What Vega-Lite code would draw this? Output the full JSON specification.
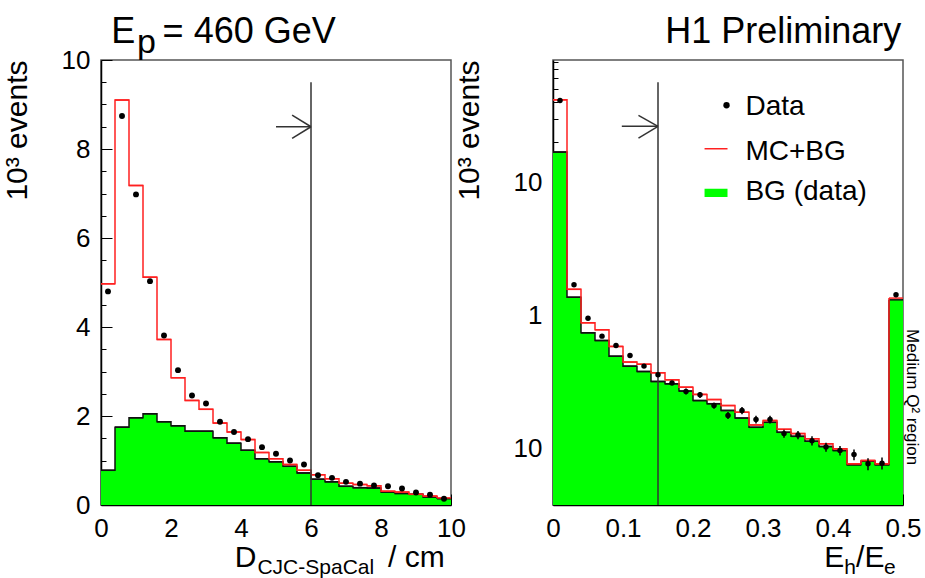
{
  "$schema": "https://vega.github.io/schema/vega-lite/v6.json",
  "padding": {"left": 1, "top": 13, "right": 0, "bottom": 0},
  "bounds": "flush",
  "spacing": 102,
  "datasets": {
    "left": [
      {"lo": 0.0, "hi": 0.4, "c": 0.2, "d": 4.80, "mc": 4.97, "bg": 0.78},
      {"lo": 0.4, "hi": 0.8, "c": 0.6, "d": 8.74, "mc": 9.10, "bg": 1.75},
      {"lo": 0.8, "hi": 1.2, "c": 1.0, "d": 6.98, "mc": 7.18, "bg": 1.96},
      {"lo": 1.2, "hi": 1.6, "c": 1.4, "d": 5.03, "mc": 5.12, "bg": 2.05},
      {"lo": 1.6, "hi": 2.0, "c": 1.8, "d": 3.81, "mc": 3.72, "bg": 1.87},
      {"lo": 2.0, "hi": 2.4, "c": 2.2, "d": 3.03, "mc": 2.86, "bg": 1.78},
      {"lo": 2.4, "hi": 2.8, "c": 2.6, "d": 2.46, "mc": 2.35, "bg": 1.66},
      {"lo": 2.8, "hi": 3.2, "c": 3.0, "d": 2.28, "mc": 2.15, "bg": 1.66},
      {"lo": 3.2, "hi": 3.6, "c": 3.4, "d": 1.87, "mc": 1.84, "bg": 1.51},
      {"lo": 3.6, "hi": 4.0, "c": 3.8, "d": 1.64, "mc": 1.64, "bg": 1.39},
      {"lo": 4.0, "hi": 4.4, "c": 4.2, "d": 1.48, "mc": 1.47, "bg": 1.23},
      {"lo": 4.4, "hi": 4.8, "c": 4.6, "d": 1.30, "mc": 1.18, "bg": 1.04},
      {"lo": 4.8, "hi": 5.2, "c": 5.0, "d": 1.15, "mc": 1.04, "bg": 0.97},
      {"lo": 5.2, "hi": 5.6, "c": 5.4, "d": 1.00, "mc": 0.91, "bg": 0.87},
      {"lo": 5.6, "hi": 6.0, "c": 5.8, "d": 0.91, "mc": 0.78, "bg": 0.72},
      {"lo": 6.0, "hi": 6.4, "c": 6.2, "d": 0.67, "mc": 0.68, "bg": 0.58},
      {"lo": 6.4, "hi": 6.8, "c": 6.6, "d": 0.61, "mc": 0.59, "bg": 0.52},
      {"lo": 6.8, "hi": 7.2, "c": 7.0, "d": 0.52, "mc": 0.49, "bg": 0.42},
      {"lo": 7.2, "hi": 7.6, "c": 7.4, "d": 0.48, "mc": 0.46, "bg": 0.39},
      {"lo": 7.6, "hi": 8.0, "c": 7.8, "d": 0.44, "mc": 0.43, "bg": 0.38},
      {"lo": 8.0, "hi": 8.4, "c": 8.2, "d": 0.42, "mc": 0.31, "bg": 0.29},
      {"lo": 8.4, "hi": 8.8, "c": 8.6, "d": 0.37, "mc": 0.29, "bg": 0.26},
      {"lo": 8.8, "hi": 9.2, "c": 9.0, "d": 0.28, "mc": 0.24, "bg": 0.24},
      {"lo": 9.2, "hi": 9.6, "c": 9.4, "d": 0.23, "mc": 0.20, "bg": 0.18},
      {"lo": 9.6, "hi": 10.0, "c": 9.8, "d": 0.14, "mc": 0.16, "bg": 0.14}
    ],
    "right": [
      {"lo": 0.00, "hi": 0.02, "c": 0.01, "d": 41.0, "elo": 40.2, "ehi": 41.8, "mc": 41.4, "bg": 16.8},
      {"lo": 0.02, "hi": 0.04, "c": 0.03, "d": 1.70, "elo": 1.67, "ehi": 1.73, "mc": 1.57, "bg": 1.37},
      {"lo": 0.04, "hi": 0.06, "c": 0.05, "d": 0.955, "elo": 0.935, "ehi": 0.975, "mc": 0.881, "bg": 0.741},
      {"lo": 0.06, "hi": 0.08, "c": 0.07, "d": 0.700, "elo": 0.685, "ehi": 0.715, "mc": 0.781, "bg": 0.649},
      {"lo": 0.08, "hi": 0.10, "c": 0.09, "d": 0.596, "elo": 0.583, "ehi": 0.609, "mc": 0.586, "bg": 0.495},
      {"lo": 0.10, "hi": 0.12, "c": 0.11, "d": 0.501, "elo": 0.490, "ehi": 0.512, "mc": 0.447, "bg": 0.417},
      {"lo": 0.12, "hi": 0.14, "c": 0.13, "d": 0.417, "elo": 0.406, "ehi": 0.428, "mc": 0.431, "bg": 0.380},
      {"lo": 0.14, "hi": 0.16, "c": 0.15, "d": 0.359, "elo": 0.349, "ehi": 0.369, "mc": 0.372, "bg": 0.320},
      {"lo": 0.16, "hi": 0.18, "c": 0.17, "d": 0.311, "elo": 0.301, "ehi": 0.321, "mc": 0.329, "bg": 0.307},
      {"lo": 0.18, "hi": 0.20, "c": 0.19, "d": 0.269, "elo": 0.255, "ehi": 0.283, "mc": 0.290, "bg": 0.271},
      {"lo": 0.20, "hi": 0.22, "c": 0.21, "d": 0.254, "elo": 0.241, "ehi": 0.267, "mc": 0.256, "bg": 0.230},
      {"lo": 0.22, "hi": 0.24, "c": 0.23, "d": 0.211, "elo": 0.200, "ehi": 0.222, "mc": 0.234, "bg": 0.218},
      {"lo": 0.24, "hi": 0.26, "c": 0.25, "d": 0.178, "elo": 0.167, "ehi": 0.189, "mc": 0.211, "bg": 0.194},
      {"lo": 0.26, "hi": 0.28, "c": 0.27, "d": 0.194, "elo": 0.182, "ehi": 0.206, "mc": 0.188, "bg": 0.170},
      {"lo": 0.28, "hi": 0.30, "c": 0.29, "d": 0.166, "elo": 0.155, "ehi": 0.177, "mc": 0.151, "bg": 0.145},
      {"lo": 0.30, "hi": 0.32, "c": 0.31, "d": 0.166, "elo": 0.155, "ehi": 0.177, "mc": 0.163, "bg": 0.158},
      {"lo": 0.32, "hi": 0.34, "c": 0.33, "d": 0.130, "elo": 0.121, "ehi": 0.139, "mc": 0.140, "bg": 0.133},
      {"lo": 0.34, "hi": 0.36, "c": 0.35, "d": 0.127, "elo": 0.118, "ehi": 0.136, "mc": 0.130, "bg": 0.124},
      {"lo": 0.36, "hi": 0.38, "c": 0.37, "d": 0.115, "elo": 0.106, "ehi": 0.124, "mc": 0.119, "bg": 0.114},
      {"lo": 0.38, "hi": 0.40, "c": 0.39, "d": 0.103, "elo": 0.095, "ehi": 0.111, "mc": 0.109, "bg": 0.104},
      {"lo": 0.40, "hi": 0.42, "c": 0.41, "d": 0.0971, "elo": 0.089, "ehi": 0.105, "mc": 0.100, "bg": 0.0971},
      {"lo": 0.42, "hi": 0.44, "c": 0.43, "d": 0.0907, "elo": 0.082, "ehi": 0.099, "mc": 0.0772, "bg": 0.0759},
      {"lo": 0.44, "hi": 0.46, "c": 0.45, "d": 0.0772, "elo": 0.069, "ehi": 0.085, "mc": 0.0818, "bg": 0.0808},
      {"lo": 0.46, "hi": 0.48, "c": 0.47, "d": 0.0778, "elo": 0.070, "ehi": 0.086, "mc": 0.0772, "bg": 0.0759},
      {"lo": 0.48, "hi": 0.50, "c": 0.49, "d": 1.43, "elo": 1.40, "ehi": 1.46, "mc": 1.35, "bg": 1.31}
    ],
    "one": [{}]
  },
  "config": {
    "view": {"stroke": "#555", "strokeWidth": 1.5},
    "axis": {
      "grid": false, "domainColor": "#000", "domainWidth": 1.5, "tickColor": "#000", "tickWidth": 1,
      "labelFont": "Liberation Sans", "titleFont": "Liberation Sans", "labelColor": "#000", "titleColor": "#000",
      "labelFontSize": 26, "titleFontSize": 30, "titleFontWeight": "normal",
      "labelFlush": false, "labelOverlap": false, "labelBound": false, "tickSize": -11
    },
    "axisY": {"labelPadding": 22, "minExtent": 40, "maxExtent": 40, "titlePadding": 29, "titleAnchor": "end"},
    "axisX": {"labelPadding": 21},
    "text": {"font": "Liberation Sans", "color": "#000"}
  },
  "hconcat": [
    {
      "width": 350, "height": 445,
      "resolve": {"axis": {"x": "independent", "y": "independent"}},
      "layer": [
        {
          "layer": [
            {
              "data": {"name": "left"},
              "mark": {"type": "rect", "color": "#00ff00"},
              "encoding": {
                "x": {"field": "lo", "type": "quantitative", "scale": {"domain": [0, 10], "nice": false, "zero": false},
                      "axis": {"title": null, "values": [0, 2, 4, 6, 8, 10]}},
                "x2": {"field": "hi"},
                "y": {"field": "bg", "type": "quantitative", "scale": {"domain": [0, 10], "nice": false},
                      "axis": {"title": "10³ events", "values": [0, 2, 4, 6, 8, 10]}},
                "y2": {"datum": 0}
              }
            },
            {
              "data": {"name": "left"},
              "mark": {"type": "rule", "color": "#111", "strokeWidth": 1.5},
              "encoding": {"x": {"field": "lo", "type": "quantitative"}, "x2": {"field": "hi"}, "y": {"field": "bg", "type": "quantitative"}}
            },
            {
              "data": {"name": "left"},
              "mark": {"type": "line", "interpolate": "step-after", "color": "#111", "strokeWidth": 1.5},
              "encoding": {"x": {"field": "lo", "type": "quantitative"}, "y": {"field": "bg", "type": "quantitative"}}
            },
            {
              "data": {"name": "left"},
              "mark": {"type": "rule", "color": "#ff2020", "strokeWidth": 1.5},
              "encoding": {"x": {"field": "lo", "type": "quantitative"}, "x2": {"field": "hi"}, "y": {"field": "mc", "type": "quantitative"}}
            },
            {
              "data": {"name": "left"},
              "mark": {"type": "line", "interpolate": "step-after", "color": "#ff2020", "strokeWidth": 1.5},
              "encoding": {"x": {"field": "lo", "type": "quantitative"}, "y": {"field": "mc", "type": "quantitative"}}
            },
            {
              "data": {"name": "one"},
              "mark": {"type": "rule", "color": "#333", "strokeWidth": 1.5},
              "encoding": {"x": {"datum": 6}, "y": {"datum": 0}, "y2": {"datum": 9.5}}
            },
            {
              "data": {"name": "one"},
              "mark": {"type": "rule", "color": "#333", "strokeWidth": 1.5},
              "encoding": {"x": {"datum": 5.0}, "x2": {"datum": 6}, "y": {"datum": 8.5}}
            },
            {
              "data": {"name": "one"},
              "mark": {"type": "rule", "color": "#333", "strokeWidth": 1.5},
              "encoding": {"x": {"datum": 5.46}, "x2": {"datum": 6}, "y": {"datum": 8.76}, "y2": {"datum": 8.5}}
            },
            {
              "data": {"name": "one"},
              "mark": {"type": "rule", "color": "#333", "strokeWidth": 1.5},
              "encoding": {"x": {"datum": 5.46}, "x2": {"datum": 6}, "y": {"datum": 8.24}, "y2": {"datum": 8.5}}
            },
            {
              "data": {"name": "left"},
              "mark": {"type": "point", "shape": "circle", "filled": true, "color": "#000", "size": 35, "opacity": 1},
              "encoding": {"x": {"field": "c", "type": "quantitative"}, "y": {"field": "d", "type": "quantitative"}}
            },
            {
              "data": {"name": "one"},
              "mark": {"type": "text", "fontSize": 36, "align": "left", "baseline": "alphabetic"},
              "encoding": {"x": {"datum": 0.29}, "y": {"datum": 10.38}, "text": {"value": "E"}}
            },
            {
              "data": {"name": "one"},
              "mark": {"type": "text", "fontSize": 34, "align": "left", "baseline": "alphabetic"},
              "encoding": {"x": {"datum": 1.03}, "y": {"datum": 10.16}, "text": {"value": "p"}}
            },
            {
              "data": {"name": "one"},
              "mark": {"type": "text", "fontSize": 36, "align": "left", "baseline": "alphabetic"},
              "encoding": {"x": {"datum": 1.76}, "y": {"datum": 10.38}, "text": {"value": "= 460 GeV"}}
            },
            {
              "data": {"name": "one"},
              "mark": {"type": "text", "fontSize": 30, "align": "left", "baseline": "alphabetic"},
              "encoding": {"x": {"datum": 3.82}, "y": {"datum": -1.40}, "text": {"value": "D"}}
            },
            {
              "data": {"name": "one"},
              "mark": {"type": "text", "fontSize": 21, "align": "left", "baseline": "alphabetic"},
              "encoding": {"x": {"datum": 4.47}, "y": {"datum": -1.56}, "text": {"value": "CJC-SpaCal"}}
            },
            {
              "data": {"name": "one"},
              "mark": {"type": "text", "fontSize": 30, "align": "left", "baseline": "alphabetic"},
              "encoding": {"x": {"datum": 8.2}, "y": {"datum": -1.40}, "text": {"value": "/ cm"}}
            }
          ]
        },
        {
          "data": {"name": "one"},
          "mark": {"type": "point", "opacity": 0},
          "encoding": {
            "x": {"datum": 5, "type": "quantitative",
                  "axis": {"orient": "bottom", "title": null, "labels": false, "domain": false, "tickSize": -5,
                           "values": [0.5,1,1.5,2.5,3,3.5,4.5,5,5.5,6.5,7,7.5,8.5,9,9.5]}},
            "y": {"datum": 5, "type": "quantitative",
                  "axis": {"orient": "left", "title": null, "labels": false, "domain": false, "tickSize": -5,
                           "values": [0.5,1,1.5,2.5,3,3.5,4.5,5,5.5,6.5,7,7.5,8.5,9,9.5]}}
          }
        }
      ]
    },
    {
      "width": 350, "height": 445,
      "resolve": {"axis": {"x": "independent", "y": "independent"}},
      "layer": [
        {
          "layer": [
            {
              "data": {"name": "right"},
              "mark": {"type": "rect", "color": "#00ff00"},
              "encoding": {
                "x": {"field": "lo", "type": "quantitative", "scale": {"domain": [0, 0.5], "nice": false, "zero": false},
                      "axis": {"title": null, "values": [0, 0.1, 0.2, 0.3, 0.4, 0.5], "format": "~g"}},
                "x2": {"field": "hi"},
                "y": {"field": "bg", "type": "quantitative", "scale": {"type": "log", "domain": [0.0379, 82.4], "nice": false},
                      "axis": {"title": "10³ events", "values": [0.1, 1, 10],
                               "labelExpr": "datum.value < 0.5 ? '10' : (datum.value < 5 ? '1' : '10')"}},
                "y2": {"datum": 0.0379}
              }
            },
            {
              "data": {"name": "right"},
              "mark": {"type": "rule", "color": "#111", "strokeWidth": 1.5},
              "encoding": {"x": {"field": "lo", "type": "quantitative"}, "x2": {"field": "hi"}, "y": {"field": "bg", "type": "quantitative"}}
            },
            {
              "data": {"name": "right"},
              "mark": {"type": "line", "interpolate": "step-after", "color": "#111", "strokeWidth": 1.5},
              "encoding": {"x": {"field": "lo", "type": "quantitative"}, "y": {"field": "bg", "type": "quantitative"}}
            },
            {
              "data": {"name": "right"},
              "mark": {"type": "rule", "color": "#ff2020", "strokeWidth": 1.5},
              "encoding": {"x": {"field": "lo", "type": "quantitative"}, "x2": {"field": "hi"}, "y": {"field": "mc", "type": "quantitative"}}
            },
            {
              "data": {"name": "right"},
              "mark": {"type": "line", "interpolate": "step-after", "color": "#ff2020", "strokeWidth": 1.5},
              "encoding": {"x": {"field": "lo", "type": "quantitative"}, "y": {"field": "mc", "type": "quantitative"}}
            },
            {
              "data": {"name": "one"},
              "mark": {"type": "rule", "color": "#333", "strokeWidth": 1.5},
              "encoding": {"x": {"datum": 0.15}, "y": {"datum": 0.0379}, "y2": {"datum": 56.2}}
            },
            {
              "data": {"name": "one"},
              "mark": {"type": "rule", "color": "#333", "strokeWidth": 1.5},
              "encoding": {"x": {"datum": 0.0983}, "x2": {"datum": 0.15}, "y": {"datum": 26.2}}
            },
            {
              "data": {"name": "one"},
              "mark": {"type": "rule", "color": "#333", "strokeWidth": 1.5},
              "encoding": {"x": {"datum": 0.1221}, "x2": {"datum": 0.15}, "y": {"datum": 31.7}, "y2": {"datum": 26.2}}
            },
            {
              "data": {"name": "one"},
              "mark": {"type": "rule", "color": "#333", "strokeWidth": 1.5},
              "encoding": {"x": {"datum": 0.1221}, "x2": {"datum": 0.15}, "y": {"datum": 21.4}, "y2": {"datum": 26.2}}
            },
            {
              "data": {"name": "right"},
              "mark": {"type": "rule", "color": "#000", "strokeWidth": 1.5},
              "encoding": {"x": {"field": "c", "type": "quantitative"}, "y": {"field": "elo", "type": "quantitative"}, "y2": {"field": "ehi"}}
            },
            {
              "data": {"name": "right"},
              "mark": {"type": "point", "shape": "circle", "filled": true, "color": "#000", "size": 30, "opacity": 1},
              "encoding": {"x": {"field": "c", "type": "quantitative"}, "y": {"field": "d", "type": "quantitative"}}
            },
            {
              "data": {"name": "one"},
              "mark": {"type": "point", "shape": "circle", "filled": true, "color": "#000", "size": 40, "opacity": 1},
              "encoding": {"x": {"datum": 0.2479}, "y": {"datum": 37.7}}
            },
            {
              "data": {"name": "one"},
              "mark": {"type": "text", "fontSize": 28, "align": "left", "baseline": "alphabetic"},
              "encoding": {"x": {"datum": 0.2749}, "y": {"datum": 31.7}, "text": {"value": "Data"}}
            },
            {
              "data": {"name": "one"},
              "mark": {"type": "rule", "color": "#ff2020", "strokeWidth": 1.5},
              "encoding": {"x": {"datum": 0.2165}, "x2": {"datum": 0.2493}, "y": {"datum": 17.8}}
            },
            {
              "data": {"name": "one"},
              "mark": {"type": "text", "fontSize": 28, "align": "left", "baseline": "alphabetic"},
              "encoding": {"x": {"datum": 0.2749}, "y": {"datum": 14.6}, "text": {"value": "MC+BG"}}
            },
            {
              "data": {"name": "one"},
              "mark": {"type": "rect", "color": "#00ff00"},
              "encoding": {"x": {"datum": 0.2165}, "x2": {"datum": 0.2493}, "y": {"datum": 8.92}, "y2": {"datum": 7.73}}
            },
            {
              "data": {"name": "one"},
              "mark": {"type": "text", "fontSize": 28, "align": "left", "baseline": "alphabetic"},
              "encoding": {"x": {"datum": 0.2749}, "y": {"datum": 7.30}, "text": {"value": "BG (data)"}}
            },
            {
              "data": {"name": "one"},
              "mark": {"type": "text", "fontSize": 36, "align": "right", "baseline": "alphabetic"},
              "encoding": {"x": {"datum": 0.4975}, "y": {"datum": 110.5}, "text": {"value": "H1 Preliminary"}}
            },
            {
              "data": {"name": "one"},
              "mark": {"type": "text", "fontSize": 17, "align": "center", "baseline": "middle", "angle": 90},
              "encoding": {"x": {"datum": 0.5128}, "y": {"datum": 0.2443}, "text": {"value": "Medium Q² region"}}
            },
            {
              "data": {"name": "one"},
              "mark": {"type": "text", "fontSize": 30, "align": "left", "baseline": "alphabetic"},
              "encoding": {"x": {"datum": 0.3875}, "y": {"datum": 0.01296}, "text": {"value": "E"}}
            },
            {
              "data": {"name": "one"},
              "mark": {"type": "text", "fontSize": 21, "align": "left", "baseline": "alphabetic"},
              "encoding": {"x": {"datum": 0.416}, "y": {"datum": 0.01148}, "text": {"value": "h"}}
            },
            {
              "data": {"name": "one"},
              "mark": {"type": "text", "fontSize": 30, "align": "left", "baseline": "alphabetic"},
              "encoding": {"x": {"datum": 0.433}, "y": {"datum": 0.01296}, "text": {"value": "/E"}}
            },
            {
              "data": {"name": "one"},
              "mark": {"type": "text", "fontSize": 21, "align": "left", "baseline": "alphabetic"},
              "encoding": {"x": {"datum": 0.473}, "y": {"datum": 0.01148}, "text": {"value": "e"}}
            }
          ]
        },
        {
          "data": {"name": "one"},
          "mark": {"type": "point", "opacity": 0},
          "encoding": {
            "x": {"datum": 0.25, "type": "quantitative",
                  "axis": {"orient": "bottom", "title": null, "labels": false, "domain": false, "tickSize": -5,
                           "values": [0.02,0.04,0.06,0.08,0.12,0.14,0.16,0.18,0.22,0.24,0.26,0.28,0.32,0.34,0.36,0.38,0.42,0.44,0.46,0.48]}},
            "y": {"datum": 1, "type": "quantitative",
                  "axis": {"orient": "left", "title": null, "labels": false, "domain": false, "tickSize": -5,
                           "values": [0.04,0.05,0.06,0.07,0.08,0.09,0.2,0.3,0.4,0.5,0.6,0.7,0.8,0.9,2,3,4,5,6,7,8,9,20,30,40,50,60,70,80]}}
          }
        }
      ]
    }
  ]
}
